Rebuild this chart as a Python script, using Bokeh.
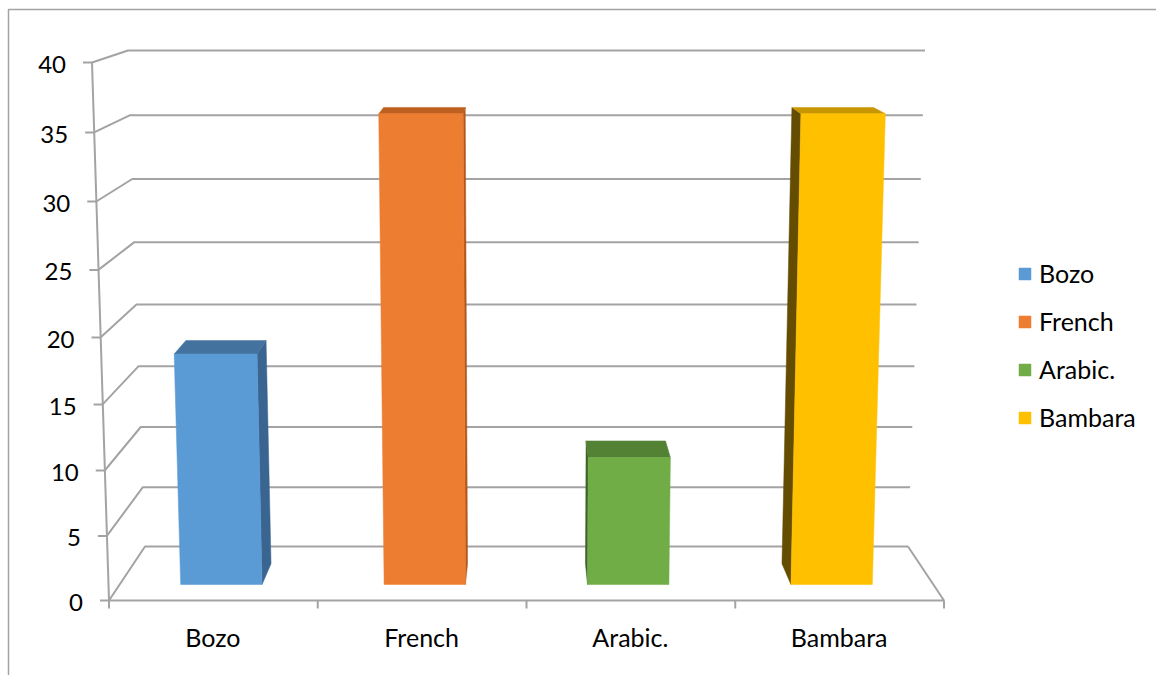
from bokeh.plotting import figure
from bokeh.models import Range1d, ColumnDataSource, Legend, LegendItem
from bokeh.core.properties import value
from bokeh.embed import file_html
from bokeh.resources import INLINE

# ---------------- data ----------------
categories = ["Bozo", "French", "Arabic.", "Bambara"]
values = [18, 36, 10, 36]
y_ticks = [0, 5, 10, 15, 20, 25, 30, 35, 40]
y_max = 40

front_colors = ["#5b9bd5", "#ed7d31", "#70ad47", "#ffc000"]
top_colors = ["#44729e", "#bf5f1f", "#548235", "#c89600"]
side_colors = ["#396590", "#b3581b", "#3f6227", "#644c00"]

# ---------------- 3-D projection into front-plane data units ----------------
W, H = 1156, 675
X0PX, XSCALE = 108.0, 208.75   # front floor: category unit -> px
Y0PX, YSCALE = 600.0, 13.45    # front wall: value unit -> px
NCAT = len(categories)


def to_data(px, py):
    return (px - X0PX) / XSCALE, (Y0PX - py) / YSCALE


def proj(x, v, d):
    """x in category units, v in value units, d depth (0 front .. 1 back)."""
    w = 835.0 - 72.0 * d + 0.85 * v
    px = 526.0 + (x - NCAT / 2) / NCAT * w
    py = 600.0 - 54.0 * d - v * (12.85 - 1.05 * d) - 0.015 * v * v
    return to_data(px, py)


def px_dx(n):
    return n / XSCALE


def px_dy(n):
    return n / YSCALE


x_start, y_top = to_data(0, 0)
x_end, y_bot = to_data(W, H)

p = figure(width=W, height=H, x_range=Range1d(x_start, x_end),
           y_range=Range1d(y_bot, y_top), output_backend="svg",
           toolbar_location=None, x_axis_location=None, y_axis_location=None,
           min_border=0)
p.grid.visible = False
p.outline_line_color = None
p.background_fill_color = "white"
p.border_fill_color = "white"

GRID = "#a3a3a3"

# chart-area border (top and left edges)
bx, by = to_data(8, 9)
p.line([bx, bx, x_end + 1], [y_bot - 1, by, by], line_color=GRID, line_width=1.5)

# back wall + left wall grid lines
xs, ys = [], []
for t in y_ticks:
    a = proj(0, t, 1)
    b = proj(NCAT, t, 1)
    c = proj(0, t, 0)
    xs.append([c[0], a[0], b[0]])
    ys.append([c[1], a[1], b[1]])
p.multi_line(xs, ys, line_color=GRID, line_width=2)

# floor: front edge and right edge
f0 = proj(0, 0, 0)
f1 = proj(NCAT, 0, 0)
f2 = proj(NCAT, 0, 1)
p.line([f0[0], f1[0], f2[0]], [f0[1], f1[1], f2[1]], line_color=GRID, line_width=2)

# slanted value axis (front-left edge)
a_top = proj(0, y_max, 0)
p.line([a_top[0], f0[0]], [a_top[1], f0[1]], line_color=GRID, line_width=2)

# value-axis ticks and labels
tx0, tx1, ty = [], [], []
lx, ly, lt = [], [], []
for t in y_ticks:
    q = proj(0, t, 0)
    tx0.append(q[0] - px_dx(9))
    tx1.append(q[0])
    ty.append(q[1])
    lx.append(q[0] - px_dx(26))
    ly.append(q[1] - px_dy(2))
    lt.append(str(t))
p.segment(x0=tx0, y0=ty, x1=tx1, y1=ty, line_color=GRID, line_width=2)
p.text(x=lx, y=ly, text=lt, text_font=value("Lato"), text_font_size="24px",
       text_align="right", text_baseline="middle", text_color="#000000")

# category ticks (at boundaries) and labels (at centres)
bx0, by0, by1 = [], [], []
for k in range(NCAT + 1):
    q = proj(k, 0, 0)
    bx0.append(q[0])
    by0.append(q[1])
    by1.append(q[1] - px_dy(8))
p.segment(x0=bx0, y0=by0, x1=bx0, y1=by1, line_color=GRID, line_width=2)
cx = [i + 0.5 for i in range(NCAT)]
cy = [proj(i + 0.5, 0, 0)[1] - px_dy(36) for i in range(NCAT)]
p.text(x=cx, y=cy, text=categories, text_font=value("Lato"), text_font_size="25px",
       text_align="center", text_baseline="middle", text_color="#000000")

# ---------------- 3-D bars ----------------
HW = 0.2          # half width in category units
DF, DB = 0.296, 0.68   # front/back depth of bars

side_xs, side_ys, top_xs, top_ys, fr_xs, fr_ys = [], [], [], [], [], []
for i, v in enumerate(values):
    x0, x1 = i + 0.5 - HW, i + 0.5 + HW
    xe = x1 if (i + 0.5) < NCAT / 2 else x0
    pts = [proj(xe, 0, DF), proj(xe, 0, DB), proj(xe, v, DB), proj(xe, v, DF)]
    side_xs.append([q[0] for q in pts]); side_ys.append([q[1] for q in pts])
    pts = [proj(x0, v, DF), proj(x1, v, DF), proj(x1, v, DB), proj(x0, v, DB)]
    top_xs.append([q[0] for q in pts]); top_ys.append([q[1] for q in pts])
    pts = [proj(x0, 0, DF), proj(x1, 0, DF), proj(x1, v, DF), proj(x0, v, DF)]
    fr_xs.append([q[0] for q in pts]); fr_ys.append([q[1] for q in pts])

p.patches(side_xs, side_ys, fill_color=side_colors, line_color=side_colors, line_width=0.5)
p.patches(top_xs, top_ys, fill_color=top_colors, line_color=top_colors, line_width=0.5)
src = ColumnDataSource(dict(xs=fr_xs, ys=fr_ys, color=front_colors, name=categories))
front = p.patches("xs", "ys", source=src, fill_color="color", line_color="color", line_width=0.5)

legend = Legend(items=[LegendItem(label=c, renderers=[front], index=i) for i, c in enumerate(categories)],
                location=(1017, 243), glyph_width=15, glyph_height=15,
                label_text_font="Lato", label_text_font_size="25px",
                label_text_color="#000000", label_standoff=7, spacing=18,
                padding=0, margin=0, border_line_color=None, background_fill_alpha=0)
p.add_layout(legend)

open("out.html", "w").write(file_html(p, INLINE))
